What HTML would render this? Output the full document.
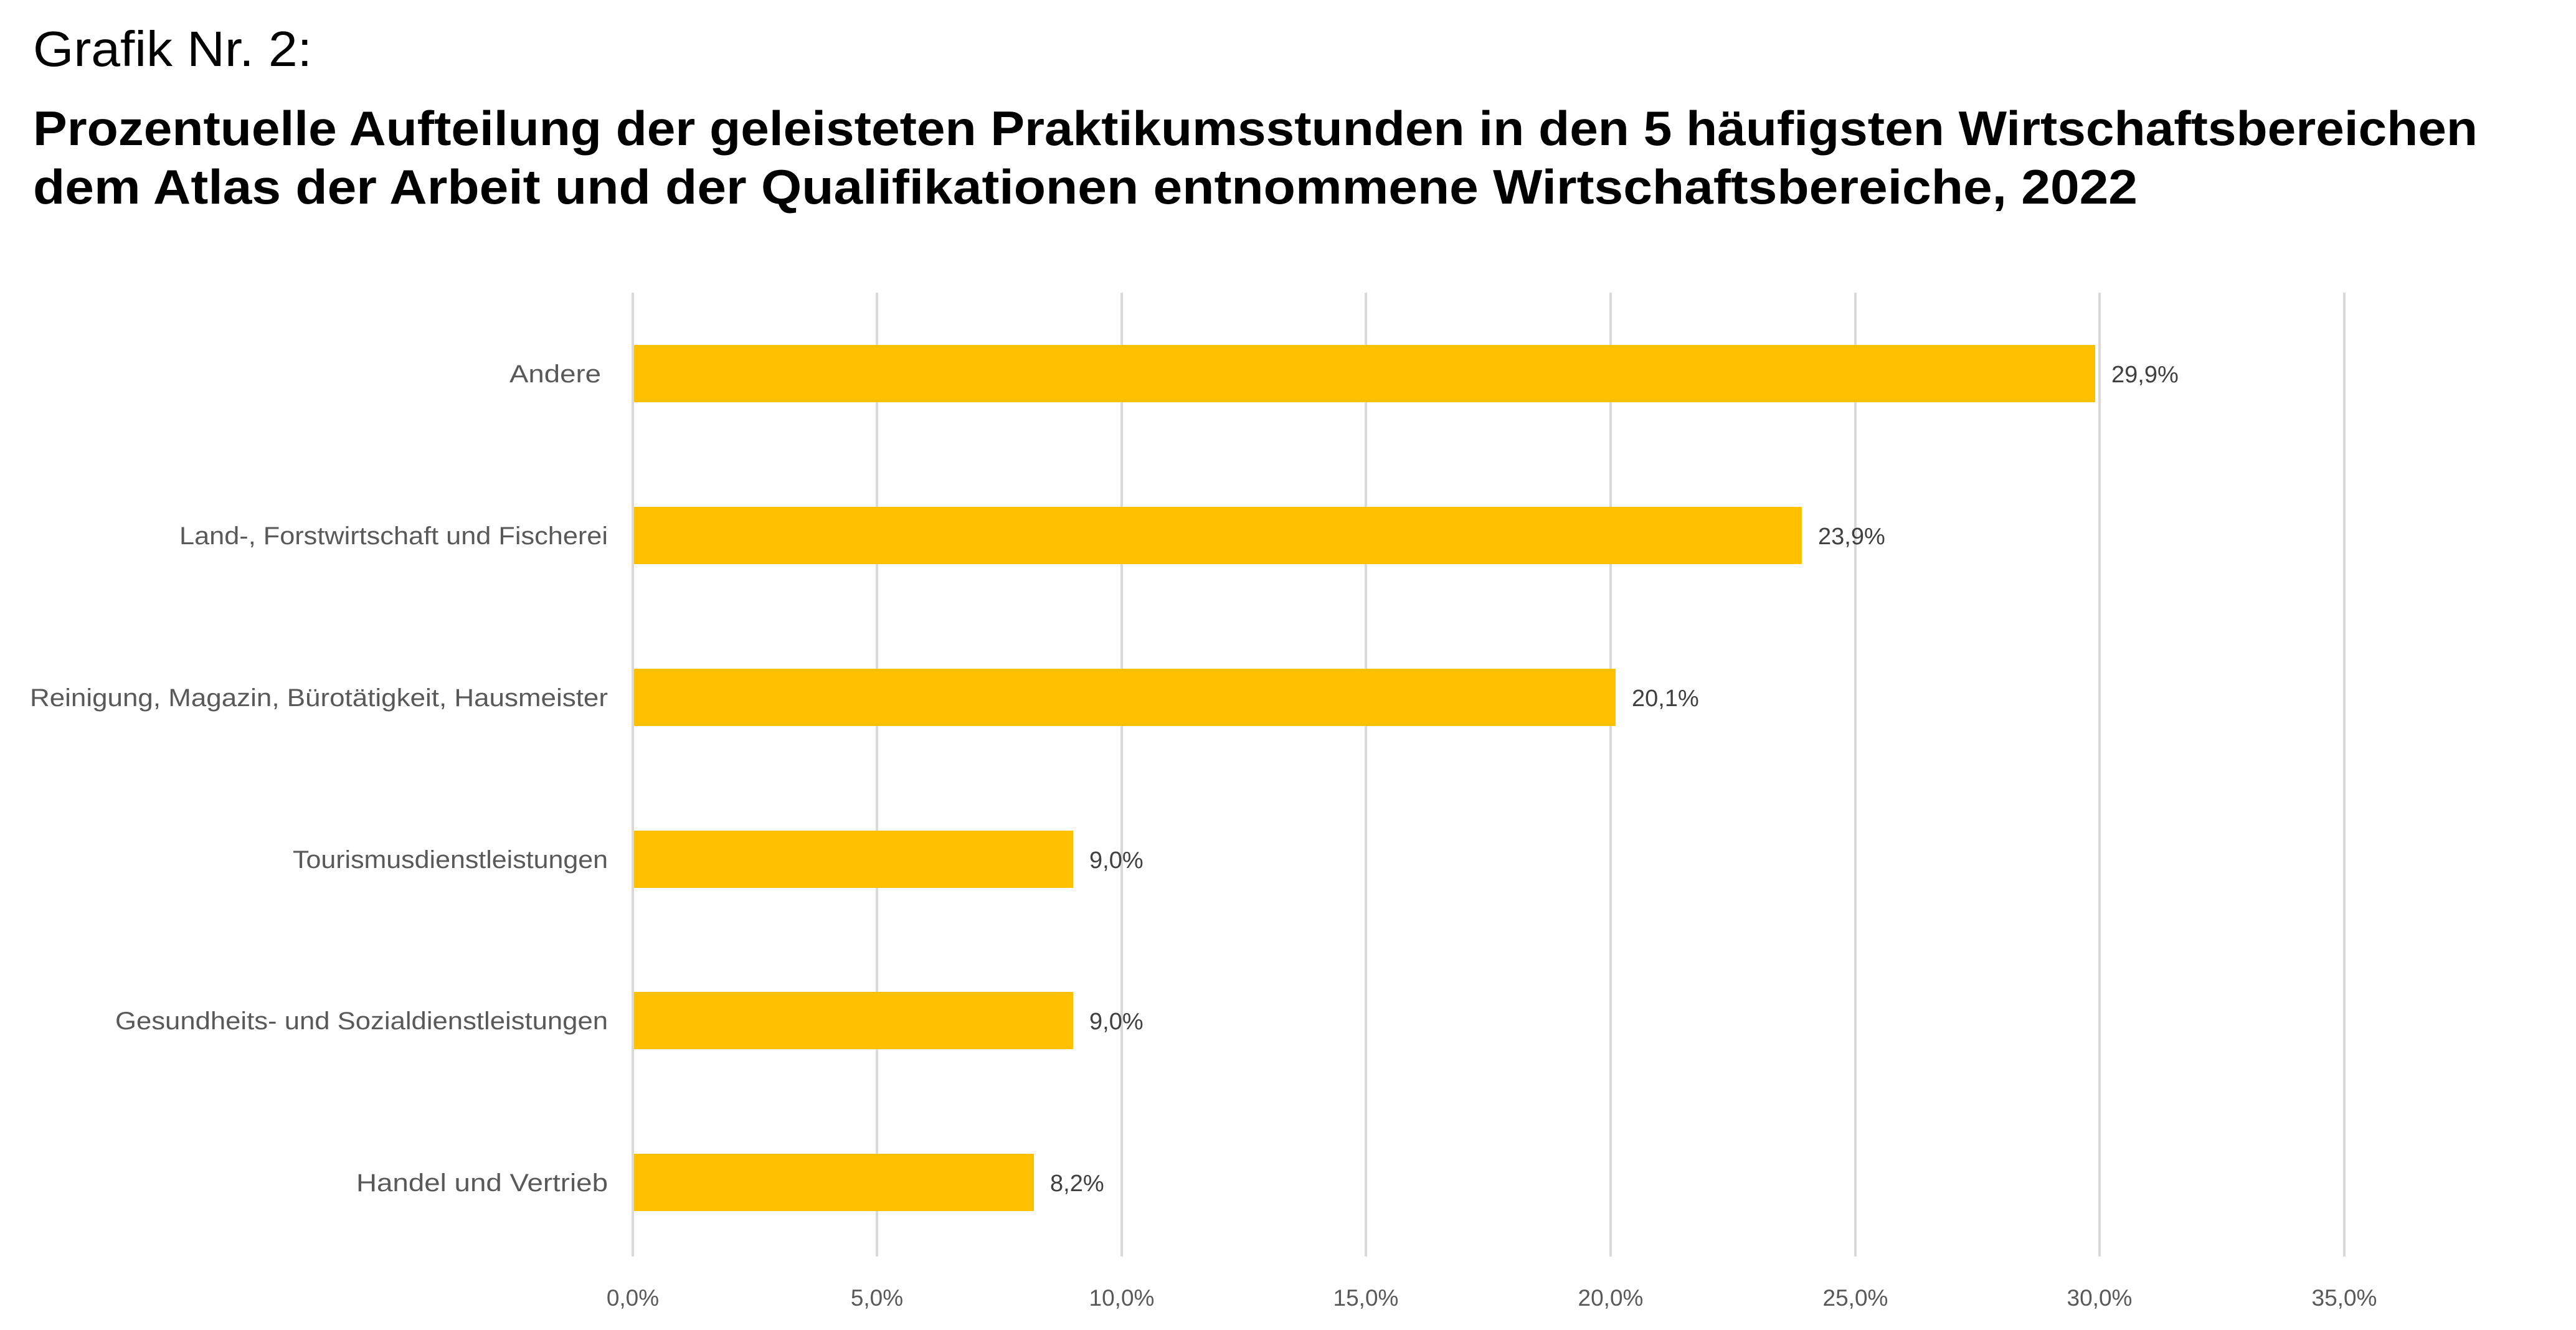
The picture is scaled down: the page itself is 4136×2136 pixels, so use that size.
<!DOCTYPE html>
<html><head><meta charset="utf-8"><style>
html,body{margin:0;padding:0;background:#fff;}
svg{display:block;}
</style></head><body>
<svg width="4136" height="2136" viewBox="0 0 4136 2136" xmlns="http://www.w3.org/2000/svg" font-family="'Liberation Sans', sans-serif">
<rect width="4136" height="2136" fill="#fff"/>
<text x="53" y="106" font-size="80" fill="#000" textLength="448" lengthAdjust="spacingAndGlyphs">Grafik Nr. 2:</text>
<text x="53" y="233" font-size="78" font-weight="bold" fill="#000" textLength="3925" lengthAdjust="spacingAndGlyphs">Prozentuelle Aufteilung der geleisteten Praktikumsstunden in den 5 häufigsten Wirtschaftsbereichen</text>
<text x="53" y="327" font-size="78" font-weight="bold" fill="#000" textLength="3379" lengthAdjust="spacingAndGlyphs">dem Atlas der Arbeit und der Qualifikationen entnommene Wirtschaftsbereiche, 2022</text>
<g stroke="#d9d9d9" stroke-width="4">
<line x1="1016" y1="470" x2="1016" y2="2018"/>
<line x1="1408" y1="470" x2="1408" y2="2018"/>
<line x1="1801" y1="470" x2="1801" y2="2018"/>
<line x1="2193" y1="470" x2="2193" y2="2018"/>
<line x1="2586" y1="470" x2="2586" y2="2018"/>
<line x1="2979" y1="470" x2="2979" y2="2018"/>
<line x1="3371" y1="470" x2="3371" y2="2018"/>
<line x1="3764" y1="470" x2="3764" y2="2018"/>
</g>
<g fill="#FFC000">
<rect x="1018" y="554" width="2346" height="92"/>
<rect x="1018" y="814" width="1875" height="92"/>
<rect x="1018" y="1074" width="1576" height="92"/>
<rect x="1018" y="1334" width="705" height="92"/>
<rect x="1018" y="1593" width="705" height="92"/>
<rect x="1018" y="1853" width="642" height="92"/>
</g>
<g font-size="40" fill="#595959" text-anchor="end">
<text x="965" y="614" textLength="147" lengthAdjust="spacingAndGlyphs">Andere</text>
<text x="976" y="874" textLength="688" lengthAdjust="spacingAndGlyphs">Land-, Forstwirtschaft und Fischerei</text>
<text x="976" y="1134" textLength="928" lengthAdjust="spacingAndGlyphs">Reinigung, Magazin, Bürotätigkeit, Hausmeister</text>
<text x="976" y="1394" textLength="506" lengthAdjust="spacingAndGlyphs">Tourismusdienstleistungen</text>
<text x="976" y="1653" textLength="791" lengthAdjust="spacingAndGlyphs">Gesundheits- und Sozialdienstleistungen</text>
<text x="976" y="1913" textLength="404" lengthAdjust="spacingAndGlyphs">Handel und Vertrieb</text>
</g>
<g font-size="38" fill="#404040">
<text x="3390" y="614">29,9%</text>
<text x="2919" y="874">23,9%</text>
<text x="2620" y="1134">20,1%</text>
<text x="1749" y="1394">9,0%</text>
<text x="1749" y="1653">9,0%</text>
<text x="1686" y="1913">8,2%</text>
</g>
<g font-size="37" fill="#595959" text-anchor="middle">
<text x="1016" y="2097">0,0%</text>
<text x="1408" y="2097">5,0%</text>
<text x="1801" y="2097">10,0%</text>
<text x="2193" y="2097">15,0%</text>
<text x="2586" y="2097">20,0%</text>
<text x="2979" y="2097">25,0%</text>
<text x="3371" y="2097">30,0%</text>
<text x="3764" y="2097">35,0%</text>
</g>
</svg>
</body></html>
